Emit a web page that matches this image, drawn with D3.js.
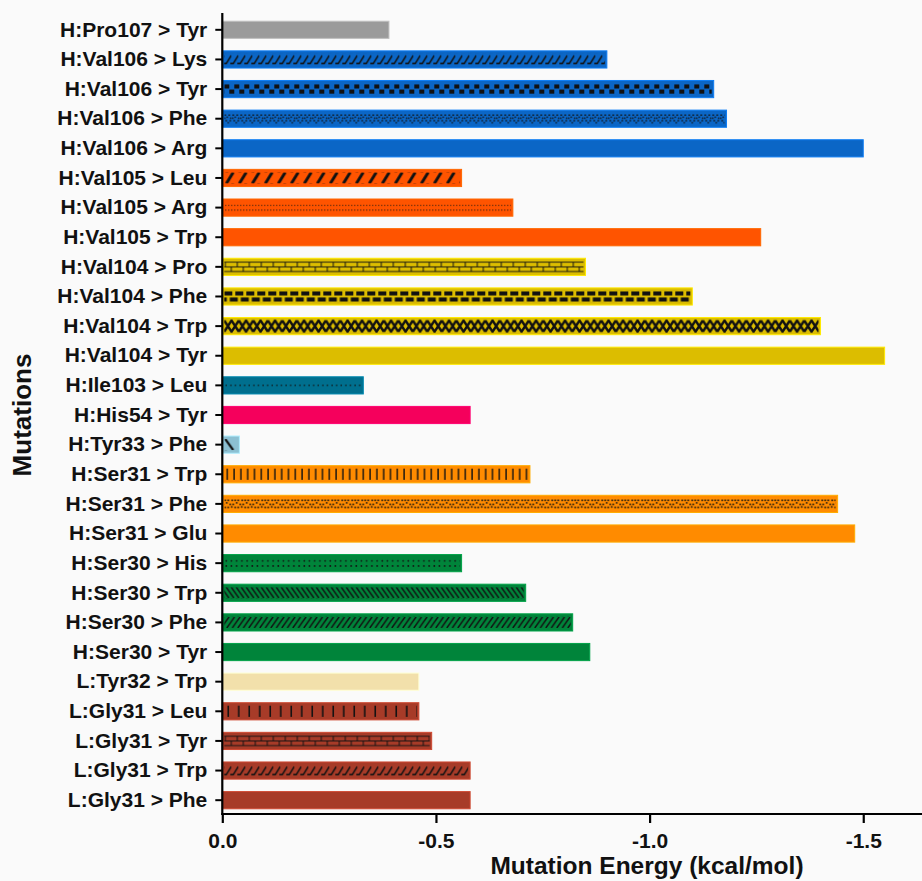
<!DOCTYPE html>
<html>
<head>
<meta charset="utf-8">
<script src="https://cdn.jsdelivr.net/npm/d3@7"></script>
<style>
  html, body { margin: 0; padding: 0; background: #fafafa; }
  svg { display: block; font-family: "Liberation Sans", Arial, sans-serif; }
</style>
</head>
<body>
<svg id="chart" width="922" height="881"></svg>
<script>
// Mutations, listed top to bottom
const categories = [
  "H:Pro107 > Tyr", "H:Val106 > Lys", "H:Val106 > Tyr", "H:Val106 > Phe", "H:Val106 > Arg",
  "H:Val105 > Leu", "H:Val105 > Arg", "H:Val105 > Trp",
  "H:Val104 > Pro", "H:Val104 > Phe", "H:Val104 > Trp", "H:Val104 > Tyr",
  "H:Ile103 > Leu", "H:His54 > Tyr", "H:Tyr33 > Phe",
  "H:Ser31 > Trp", "H:Ser31 > Phe", "H:Ser31 > Glu",
  "H:Ser30 > His", "H:Ser30 > Trp", "H:Ser30 > Phe", "H:Ser30 > Tyr",
  "L:Tyr32 > Trp", "L:Gly31 > Leu", "L:Gly31 > Tyr", "L:Gly31 > Trp", "L:Gly31 > Phe"
];

// Mutation energy (kcal/mol)
const energies = [
  -0.39, -0.90, -1.15, -1.18, -1.50,
  -0.56, -0.68, -1.26,
  -0.85, -1.10, -1.40, -1.55,
  -0.33, -0.58, -0.04,
  -0.72, -1.44, -1.48,
  -0.56, -0.71, -0.82, -0.86,
  -0.46, -0.46, -0.49, -0.58, -0.58
];

const xTicks = [0, -0.5, -1.0, -1.5];

// Residue colours and fill textures
const residueColor = {
  pro107: "#9b9b9b", val106: "#0b66c6", val105: "#ff5400", val104: "#dcbd00",
  ile103: "#006f8e", his54: "#f5005c", tyr33: "#8cc0d2", ser31: "#ff8b00",
  ser30: "#00843a", tyr32: "#f2e0ab", gly31: "#a73b28"
};
const barStyle = [
  ["pro107", "solid"], ["val106", "hook"], ["val106", "checker"], ["val106", "speckle"], ["val106", "solid"],
  ["val105", "slash"], ["val105", "dotrows"], ["val105", "solid"],
  ["val104", "brick"], ["val104", "dash2"], ["val104", "chain"], ["val104", "solid"],
  ["ile103", "dotline"], ["his54", "solid"], ["tyr33", "onemark"],
  ["ser31", "vlines"], ["ser31", "faces"], ["ser31", "solid"],
  ["ser30", "dotrows2"], ["ser30", "backslash"], ["ser30", "fwdslash"], ["ser30", "solid"],
  ["tyr32", "solid"], ["gly31", "vlines2"], ["gly31", "brick"], ["gly31", "hook"], ["gly31", "solid"]
];

const svg = d3.select("#chart");
const plotLeft = 222.3, plotTop = 15, plotBottom = 815, axisY = 814;

const x = d3.scaleLinear().domain([0, -1.65]).range([plotLeft, plotLeft + 1.65 * 427.3]);
const y = d3.scaleBand().domain(categories).range([plotTop, plotBottom]).paddingInner(0.42).paddingOuter(0.21);

const defs = svg.append("defs");
const ink = "#111";

// Texture tiles: each draws black marks into a tile of width w and height h
const tiles = {
  hook: { w: 7, draw: (g, h) => {
    g.append("path").attr("d", `M-1,${h - 1.5} L2,${h - 1.5} L7,1.5 M6,${h - 1.5} L9,${h - 1.5}`)
      .attr("stroke", ink).attr("stroke-width", 1.5).attr("fill", "none");
  }},
  checker: { w: 10, draw: (g, h) => {
    g.append("rect").attr("x", 0).attr("y", 1).attr("width", 5).attr("height", h / 2 - 1.5).attr("fill", ink);
    g.append("rect").attr("x", 5).attr("y", h / 2 + 0.5).attr("width", 5).attr("height", h / 2 - 1.5).attr("fill", ink);
  }},
  speckle: { w: 8, draw: (g, h) => {
    [[1, 2], [3, 4], [5, 2], [6.5, 5], [2, 7.5], [4, 9.5], [6, 7.5], [0.5, 5]].forEach(([cx, cy]) =>
      g.append("circle").attr("cx", cx).attr("cy", cy * h / 11).attr("r", 0.8).attr("fill", ink));
  }},
  slash: { w: 13, draw: (g, h) => {
    g.append("path").attr("d", `M2,${h} L9,0`).attr("stroke", ink).attr("stroke-width", 3);
  }},
  dotrows: { w: 3, draw: (g, h) => {
    g.append("circle").attr("cx", 1.5).attr("cy", h * 0.3).attr("r", 0.6).attr("fill", ink);
    g.append("circle").attr("cx", 1.5).attr("cy", h * 0.72).attr("r", 0.6).attr("fill", ink);
  }},
  brick: { w: 12, draw: (g, h) => {
    const m = h / 2;
    g.append("path").attr("d", `M0,1 H12 M0,${m} H12 M0,${h - 1} H12 M1,1 V${m} M7,${m} V${h - 1}`)
      .attr("stroke", ink).attr("stroke-width", 1).attr("fill", "none");
  }},
  dash2: { w: 11, draw: (g, h) => {
    g.append("rect").attr("x", 0).attr("y", 0.5).attr("width", 8).attr("height", h / 2 - 1.5).attr("fill", ink);
    g.append("rect").attr("x", 5.5).attr("y", h / 2 + 1).attr("width", 8).attr("height", h / 2 - 1.5).attr("fill", ink);
    g.append("rect").attr("x", -5.5).attr("y", h / 2 + 1).attr("width", 8).attr("height", h / 2 - 1.5).attr("fill", ink);
  }},
  chain: { w: 14.5, inset: 2, draw: (g, h) => {
    g.append("path").attr("d", `M0,1 L7.25,${h - 1} L14.5,1 M0,${h - 1} L7.25,1 L14.5,${h - 1}`)
      .attr("stroke", ink).attr("stroke-width", 2.4).attr("fill", "none");
  }},
  dotline: { w: 4.6, draw: (g, h) => {
    g.append("circle").attr("cx", 2).attr("cy", h / 2).attr("r", 0.8).attr("fill", ink);
  }},
  onemark: { w: 60, draw: (g, h) => {
    g.append("path").attr("d", `M1,0 L9,${h}`).attr("stroke", ink).attr("stroke-width", 2.2);
  }},
  vlines: { w: 6.8, draw: (g, h) => {
    g.append("path").attr("d", `M3,0 V${h}`).attr("stroke", ink).attr("stroke-width", 1.4);
  }},
  faces: { w: 10, draw: (g, h) => {
    [[1, 2], [4, 2], [2.5, 4.5], [6, 6], [9, 6], [7.5, 8.5], [1, 9], [4, 9], [8, 2]].forEach(([cx, cy]) =>
      g.append("circle").attr("cx", cx).attr("cy", cy * h / 11).attr("r", 0.9).attr("fill", ink));
  }},
  dotrows2: { w: 5.2, draw: (g, h) => {
    g.append("circle").attr("cx", 2).attr("cy", h * 0.3).attr("r", 0.9).attr("fill", ink);
    g.append("circle").attr("cx", 2).attr("cy", h * 0.75).attr("r", 0.9).attr("fill", ink);
  }},
  backslash: { w: 5, draw: (g, h) => {
    g.append("path").attr("d", `M-3,0 L${-3 + h * 0.7},${h} M2,0 L${2 + h * 0.7},${h} M7,0 L${7 + h * 0.7},${h}`)
      .attr("stroke", ink).attr("stroke-width", 1.5);
  }},
  fwdslash: { w: 5.5, draw: (g, h) => {
    g.append("path").attr("d", `M-3,${h} L${-3 + h * 0.7},0 M2.5,${h} L${2.5 + h * 0.7},0 M8,${h} L${8 + h * 0.7},0`)
      .attr("stroke", ink).attr("stroke-width", 1.5);
  }},
  vlines2: { w: 10.5, draw: (g, h) => {
    g.append("path").attr("d", `M4,0 V${h}`).attr("stroke", ink).attr("stroke-width", 1.6);
  }}
};

const bw = y.bandwidth();
const insetOf = kind => (tiles[kind] && tiles[kind].inset !== undefined) ? tiles[kind].inset : 3;

categories.forEach((cat, i) => {
  const kind = barStyle[i][1];
  if (kind === "solid") return;
  const t = tiles[kind];
  const ins = insetOf(kind);
  const ih = bw - 2 * ins;
  const p = defs.append("pattern")
    .attr("id", "pat" + i)
    .attr("patternUnits", "userSpaceOnUse")
    .attr("width", t.w).attr("height", ih)
    .attr("patternTransform", `translate(${plotLeft + 2},${y(cat) + ins})`);
  t.draw(p, ih);
});

const bars = svg.append("g").selectAll("g")
  .data(categories.map((c, i) => ({ cat: c, v: energies[i], color: residueColor[barStyle[i][0]], kind: barStyle[i][1], i })))
  .join("g");

bars.append("rect")
  .attr("x", x(0))
  .attr("y", d => y(d.cat))
  .attr("width", d => x(d.v) - x(0))
  .attr("height", bw)
  .attr("fill", d => d.color)
  .attr("stroke", d => d3.color(d.color).brighter(0.6))
  .attr("stroke-width", 1);

bars.filter(d => d.kind !== "solid").append("rect")
  .attr("x", x(0) + 2)
  .attr("y", d => y(d.cat) + insetOf(d.kind))
  .attr("width", d => Math.max(0, x(d.v) - x(0) - 4))
  .attr("height", d => bw - 2 * insetOf(d.kind))
  .attr("fill", d => `url(#pat${d.i})`);

// Axes
const yAxis = svg.append("g")
  .attr("transform", `translate(${plotLeft},0)`)
  .call(d3.axisLeft(y).tickSize(7).tickPadding(8));
yAxis.select(".domain").remove();
yAxis.selectAll(".tick line").attr("stroke", "#000").attr("stroke-width", 2);
yAxis.selectAll(".tick text")
  .attr("fill", "#111").attr("font-size", "21px").attr("font-weight", "bold");

svg.append("line")
  .attr("x1", plotLeft).attr("x2", plotLeft).attr("y1", 13).attr("y2", axisY + 1)
  .attr("stroke", "#000").attr("stroke-width", 2.2);

const fmt = d3.format(".1f");
const xAxis = svg.append("g")
  .attr("transform", `translate(0,${axisY})`)
  .call(d3.axisBottom(x).tickValues(xTicks).tickFormat(d => fmt(d).replace("\u2212", "-")).tickSize(9).tickPadding(10));
xAxis.select(".domain").remove();
xAxis.selectAll(".tick line").attr("stroke", "#000").attr("stroke-width", 2.2);
xAxis.selectAll(".tick text")
  .attr("fill", "#111").attr("font-size", "21px").attr("font-weight", "bold");

svg.append("line")
  .attr("x1", plotLeft - 1).attr("x2", 922).attr("y1", axisY).attr("y2", axisY)
  .attr("stroke", "#000").attr("stroke-width", 2.2);

// Axis titles
svg.append("text")
  .attr("x", 647).attr("y", 874)
  .attr("text-anchor", "middle")
  .attr("font-size", "24.5px").attr("font-weight", "bold").attr("fill", "#111")
  .text("Mutation Energy (kcal/mol)");

svg.append("text")
  .attr("transform", "translate(31,415) rotate(-90)")
  .attr("text-anchor", "middle")
  .attr("font-size", "26px").attr("font-weight", "bold").attr("fill", "#111")
  .text("Mutations");
</script>
</body>
</html>
